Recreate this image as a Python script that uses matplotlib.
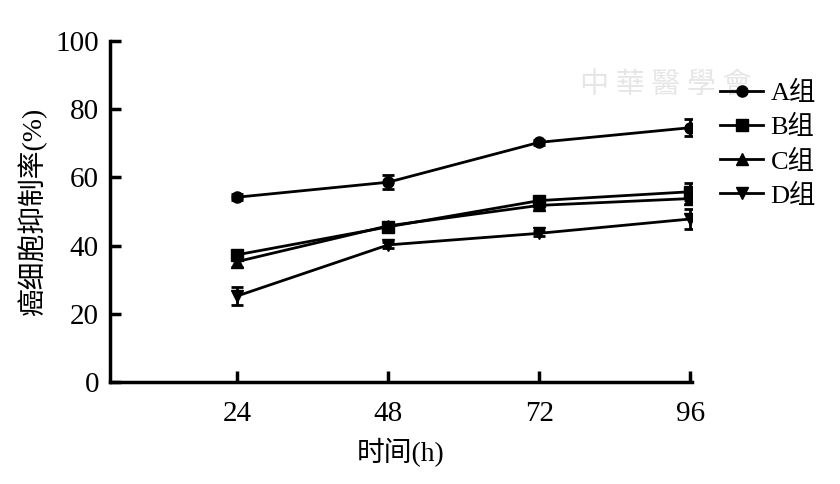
import matplotlib
matplotlib.use("Agg")
import matplotlib.pyplot as plt
from matplotlib.lines import Line2D

plt.rcParams['font.family'] = ['Liberation Serif', 'Noto Sans CJK SC']

hours = [24, 48, 72, 96]
group_labels = ['A组', 'B组', 'C组', 'D组']
a_vals = [54.2, 58.6, 70.3, 74.6]
a_err = [0.8, 2.0, 0.8, 2.5]
b_vals = [37.3, 45.5, 53.2, 55.8]
b_err = [1.2, 1.2, 1.2, 2.5]
c_vals = [35.3, 45.8, 51.8, 53.8]
c_err = [1.5, 1.0, 1.2, 1.5]
d_vals = [25.2, 40.2, 43.6, 47.8]
d_err = [2.5, 0.8, 0.8, 3.0]

series = [a_vals, b_vals, c_vals, d_vals]
errors = [a_err, b_err, c_err, d_err]
markers = ['o', 's', '^', 'v']

fig = plt.figure(figsize=(8.4, 4.84), dpi=100)
ax = fig.add_axes([0.131, 0.211, 0.693, 0.704])

for vals, err, m in zip(series, errors, markers):
    ax.errorbar(hours, vals, yerr=err, color='black', marker=m, markersize=8,
                linewidth=2, elinewidth=2, capsize=4, capthick=2)

ax.set_xlim(3.8, 96.3)
ax.set_ylim(0, 100)
ax.set_xticks(hours)
ax.set_yticks([0, 20, 40, 60, 80, 100])
ax.tick_params(direction='in', length=8, width=2.5, labelsize=21)
ax.tick_params(axis='x', pad=14)
ax.tick_params(axis='y', pad=8)
for side in ['top', 'right']:
    ax.spines[side].set_visible(False)
for side in ['left', 'bottom']:
    ax.spines[side].set_linewidth(2.5)

ax.set_xlabel('时间(h)', fontsize=20, labelpad=8)
ax.set_ylabel('癌细胞抑制率(%)', fontsize=20, labelpad=6)

# faint watermark
fig.text(0.69, 0.825, '中 華 醫 學 會', fontsize=21, color='#e6e6e6', style='italic',
         ha='left', va='center', family=['Noto Sans CJK TC'], zorder=0)

handles = [Line2D([], [], color='black', marker=m, markersize=8, linewidth=2)
           for m in markers]
fig.legend(handles, group_labels, loc='upper left', bbox_to_anchor=(0.842, 0.86),
           frameon=False, fontsize=19, handlelength=1.6, handletextpad=0.3,
           labelspacing=0.38, borderpad=0)

fig.savefig('out.png', dpi=100)
